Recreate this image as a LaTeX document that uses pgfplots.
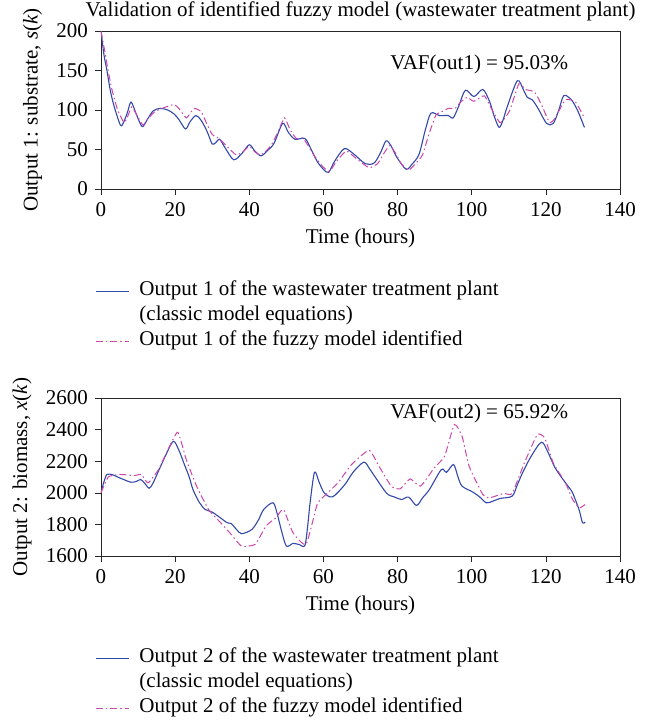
\documentclass[border=0pt]{standalone}
\usepackage{fontspec}
\setmainfont{Liberation Serif}
\usepackage{pgfplots}
\pgfplotsset{compat=1.18}
\definecolor{bl}{RGB}{50,72,170}
\definecolor{mg}{RGB}{205,70,170}
\begin{document}
\fontsize{21bp}{25bp}\selectfont
\begin{tikzpicture}
\pgfplotsset{
 myax/.style={
  scale only axis, width=519bp, height=158bp,
  xmin=0, xmax=140, xtick={0,20,...,140},
  axis line style={black!85, line width=0.6bp},
  tick align=outside, tick pos=left, major tick length=6bp,
  every tick/.style={black!85, line width=0.6bp},
  font=\fontsize{21bp}{25bp}\selectfont,
  /pgf/number format/assume math mode=true,
  /pgf/number format/1000 sep={},
  xlabel={Time (hours)},
  xlabel style={yshift=2bp},
  legend cell align=left,
  legend image code/.code={\draw[##1] (0bp,0bp) -- (33bp,0bp);},
  legend style={draw=none, fill=none, anchor=north west, row sep=0bp,
    nodes={text height=15bp, text depth=6bp, inner ysep=2bp, inner xsep=10bp}},
 },
 bls/.style={color=bl, line width=1.1bp, smooth, tension=0.5},
 mgs/.style={color=mg, line width=1.0bp, dash pattern=on 7bp off 3bp on 1.5bp off 3bp, smooth, tension=0.3},
}
\useasboundingbox (-101bp,31bp) rectangle (567bp,-693bp);
\begin{axis}[myax, at={(0,0)}, anchor=north west,
  ymin=0, ymax=200, ytick={0,50,...,200},
  ylabel={Output 1: substrate, \textit{s}(\textit{k})},
  title={Validation of identified fuzzy model (wastewater treatment plant)},
  title style={at={(0.5,1)}, anchor=south, inner sep=0pt, yshift=4bp},
  legend style={at={(axis description cs:-0.017,-0.555)}},
]
\addplot[bls] coordinates {(0,200)(0.8,170)(1.6,150)(2.5,125)(3.4,107)(4.8,86)(5.6,80)(7,95)(8.1,110)(9.5,95)(11.1,79)(12.5,88)(14.1,99)(16,102)(18,100)(19.7,95)(21,88)(22.8,76)(24,85)(25.6,93)(27,87)(28.6,73)(30,57)(31,59)(32,63)(33.5,52)(35.8,37)(38,45)(40,56)(41.5,48)(43.2,42)(45,49)(46.7,58)(49,83)(50.5,72)(52.3,63)(55,64)(56.5,52)(58.3,35)(60,25)(61.4,21)(63,35)(65.6,51)(68,45)(71.3,32)(73.7,33)(75.5,47)(76.9,61)(78.2,55)(79.7,41)(82.3,25)(84,32)(85.8,44)(87.5,75)(89,96)(91.3,93)(93.7,93)(95,90)(96.5,105)(98.3,125)(100.6,117)(103,126)(104.8,111)(106,93)(107.4,78)(108.5,88)(109.5,103)(112.3,137)(114,125)(115,116)(116.3,113)(117.9,102)(120.2,83)(122,83)(123.5,100)(124.8,118)(126.7,114)(128.5,100)(130.4,78)};
\addlegendentry{Output 1 of the wastewater treatment plant}
\addlegendimage{empty legend}
\addlegendentry{(classic model equations)}
\addplot[mgs] coordinates {(0,200)(1,175)(2,148)(3,125)(4.5,100)(6.2,84)(7.2,92)(8.3,104)(9.5,95)(11.3,81)(12.8,90)(14.6,98)(17,103)(19.7,107)(21,102)(23,90)(24.2,97)(25.3,102)(27,98)(28.5,83)(30,69)(31.8,64)(34,54)(36.5,43)(38.5,48)(40,54)(41.5,47)(43,43)(44.5,48)(46,56)(47.5,70)(49.5,90)(51,75)(52.7,64)(54.6,64)(57.4,43)(59.5,30)(61.6,22)(63.5,35)(66.2,48)(69,38)(72.3,27)(74.6,32)(76.3,45)(77.9,55)(79.5,45)(81,32)(83,24)(84.8,32)(86.7,43)(88.5,70)(90.4,94)(92,98)(93.7,102)(95.5,102)(97,110)(98.8,116)(100.6,111)(103.4,118)(105.5,100)(107.6,84)(109,90)(110.4,101)(112.7,133)(114.5,126)(116.9,123)(118.8,107)(121,84)(122.5,90)(125.3,113)(128,110)(130.4,90)};
\addlegendentry{Output 1 of the fuzzy model identified}
\node[anchor=west, inner sep=0pt] at (axis cs:78,158) {VAF(out1) = 95.03\%};
\end{axis}

\begin{axis}[myax, at={(0,-367bp)}, anchor=north west,
  ymin=1600, ymax=2600, ytick={1600,1800,...,2600},
  ylabel={Output 2: biomass, \textit{x}(\textit{k})},
  legend style={at={(axis description cs:-0.017,-0.555)}},
]
\addplot[bls] coordinates {(0,2000)(0.8,2070)(1.6,2116)(3,2115)(4.4,2101)(6,2085)(8.1,2067)(9.5,2072)(10.7,2084)(11.8,2060)(13,2029)(14,2060)(15.5,2137)(17.5,2240)(19.5,2326)(21,2270)(22.5,2179)(23.8,2100)(24.8,2021)(26.5,1940)(28.1,1895)(30,1878)(32,1845)(34.1,1810)(35.1,1806)(36.5,1770)(37.9,1741)(40.7,1768)(42.5,1830)(43.9,1895)(46.4,1937)(47.5,1870)(48.6,1768)(50,1663)(51.8,1680)(53.5,1672)(55,1667)(55.8,1800)(56.4,1937)(57.6,2130)(58.8,2070)(60.2,2000)(62.5,1975)(65.8,2053)(68,2130)(70.9,2194)(72.5,2150)(74.1,2095)(77.1,1996)(79,1975)(81.1,1958)(83,1973)(85.1,1920)(86.8,1970)(88.6,2021)(91.8,2147)(93.2,2130)(95.1,2179)(96.3,2100)(97.4,2042)(100.2,2006)(102.1,1975)(103.9,1937)(105.5,1945)(107.6,1964)(110.9,1979)(112.3,2050)(113.7,2126)(116,2230)(118.8,2320)(120.5,2260)(122.5,2158)(125.3,2063)(127,2010)(128.1,1947)(129,1890)(129.9,1810)(130.6,1815)};
\addlegendentry{Output 2 of the wastewater treatment plant}
\addlegendimage{empty legend}
\addlegendentry{(classic model equations)}
\addplot[mgs] coordinates {(0,2000)(2,2101)(5.3,2116)(9,2109)(10.9,2116)(12.7,2063)(15.5,2147)(18,2270)(20.7,2383)(23,2210)(25.8,2042)(29,1895)(32.3,1810)(35,1740)(37.9,1663)(41.6,1674)(44.5,1790)(47.2,1842)(49.2,1895)(51.8,1747)(55.3,1674)(58.3,1926)(60.2,1979)(63.9,2063)(67.6,2179)(72.3,2269)(75,2168)(78.3,2042)(80.7,2025)(83.4,2088)(86.2,2042)(89.9,2158)(92.7,2232)(95.3,2432)(97.4,2358)(99.3,2168)(103,1989)(104.8,1968)(108.6,1996)(110.9,1996)(114.2,2189)(117.7,2368)(119.7,2347)(122,2189)(125.3,2063)(127.2,1958)(129,1905)(130.6,1926)};
\addlegendentry{Output 2 of the fuzzy model identified}
\node[anchor=west, inner sep=0pt] at (axis cs:78,2500) {VAF(out2) = 65.92\%};
\end{axis}
\end{tikzpicture}
\end{document}
